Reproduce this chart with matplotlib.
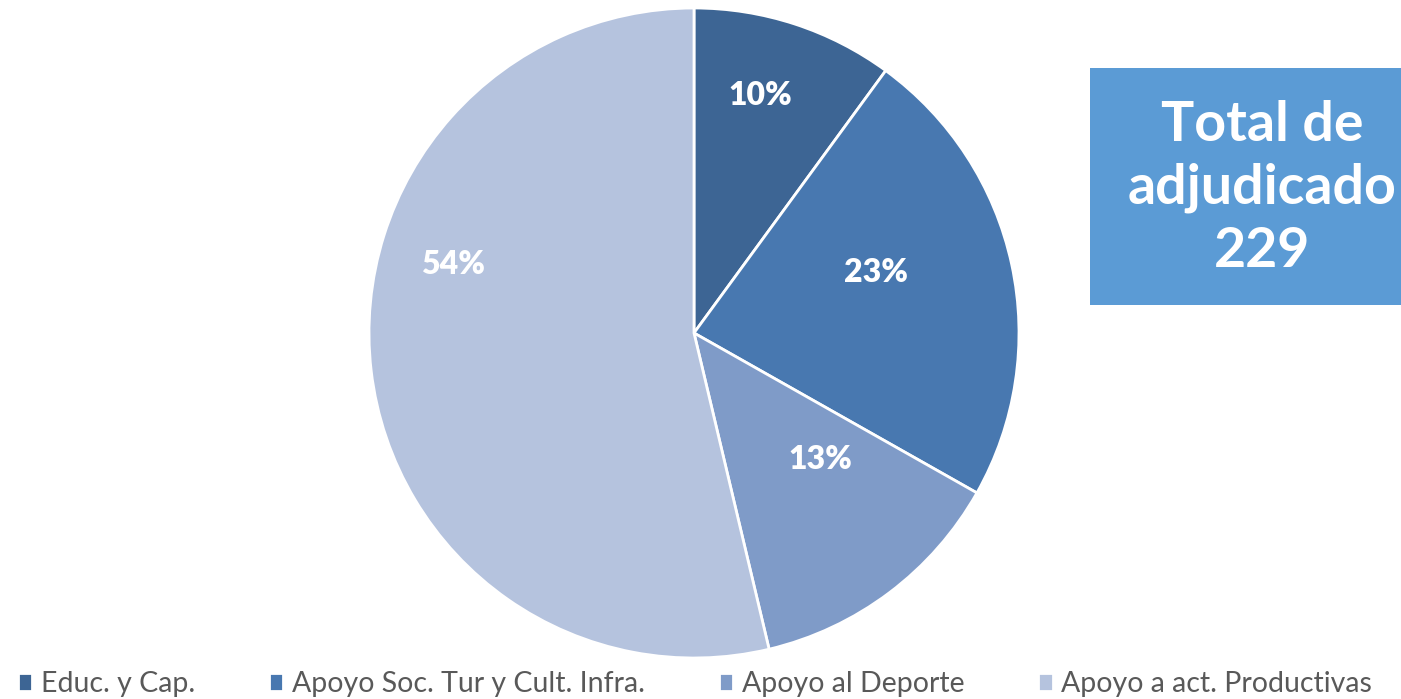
import numpy as np
import matplotlib.pyplot as plt
from matplotlib.patches import Rectangle

# datos
categorias = ["Educ. y Cap.", "Apoyo Soc. Tur y Cult. Infra.",
              "Apoyo al Deporte", "Apoyo a act. Productivas"]
adjudicados = [23, 53, 30, 123]
total = 229
colores = ["#3D6594", "#4878B0", "#7F9BC8", "#B5C3DE"]

# posiciones de las etiquetas (radio, angulo desde arriba en sentido horario)
pos_etiquetas = [(0.76, 15.6), (0.59, 71.7), (0.55, 135.0), (0.77, 286.0)]

plt.rcParams['font.family'] = ['Lato', 'DejaVu Sans']

fig = plt.figure(figsize=(14.01, 6.99), dpi=100)

W, H = 1401, 699
cx, cy, r = 694, 333, 325
ax = fig.add_axes([(cx - r) / W, (H - cy - r) / H, 2 * r / W, 2 * r / H])

wedges, texts, autotexts = ax.pie(
    adjudicados,
    colors=colores,
    startangle=90,
    counterclock=False,
    radius=1.0,
    autopct=lambda p: f"{p:.0f}%",
    wedgeprops=dict(edgecolor="white", linewidth=2.0),
    textprops=dict(color="white", fontsize=23, fontweight="heavy"),
)

for t, (rr, ang) in zip(autotexts, pos_etiquetas):
    a = np.deg2rad(ang)
    t.set_position((rr * np.sin(a), rr * np.cos(a)))
    t.set_ha("center")
    t.set_va("center")

ax.set_xlim(-1, 1)
ax.set_ylim(-1, 1)
ax.set_aspect("equal")
ax.axis("off")

# cuadro del total
caja = Rectangle((1090 / W, 1 - 305 / H), (W - 1090) / W, (305 - 68) / H,
                 transform=fig.transFigure, facecolor="#5B9BD5",
                 edgecolor="none", zorder=0)
fig.patches.append(caja)
fig.text(1262 / W, 1 - 188 / H, f"Total de\nadjudicado\n{total}",
         ha="center", va="center", color="white", fontsize=40,
         fontweight="bold", linespacing=1.3)

# leyenda
fig.legend(wedges, categorias, loc="center left",
           bbox_to_anchor=(18 / W, 1 - 684 / H),
           borderaxespad=0, borderpad=0,
           ncol=4, frameon=False, fontsize=20.5, labelcolor="#595959",
           handlelength=0.5, handleheight=0.6, handletextpad=0.3,
           columnspacing=2.6)

fig.savefig("out.png", dpi=100)
